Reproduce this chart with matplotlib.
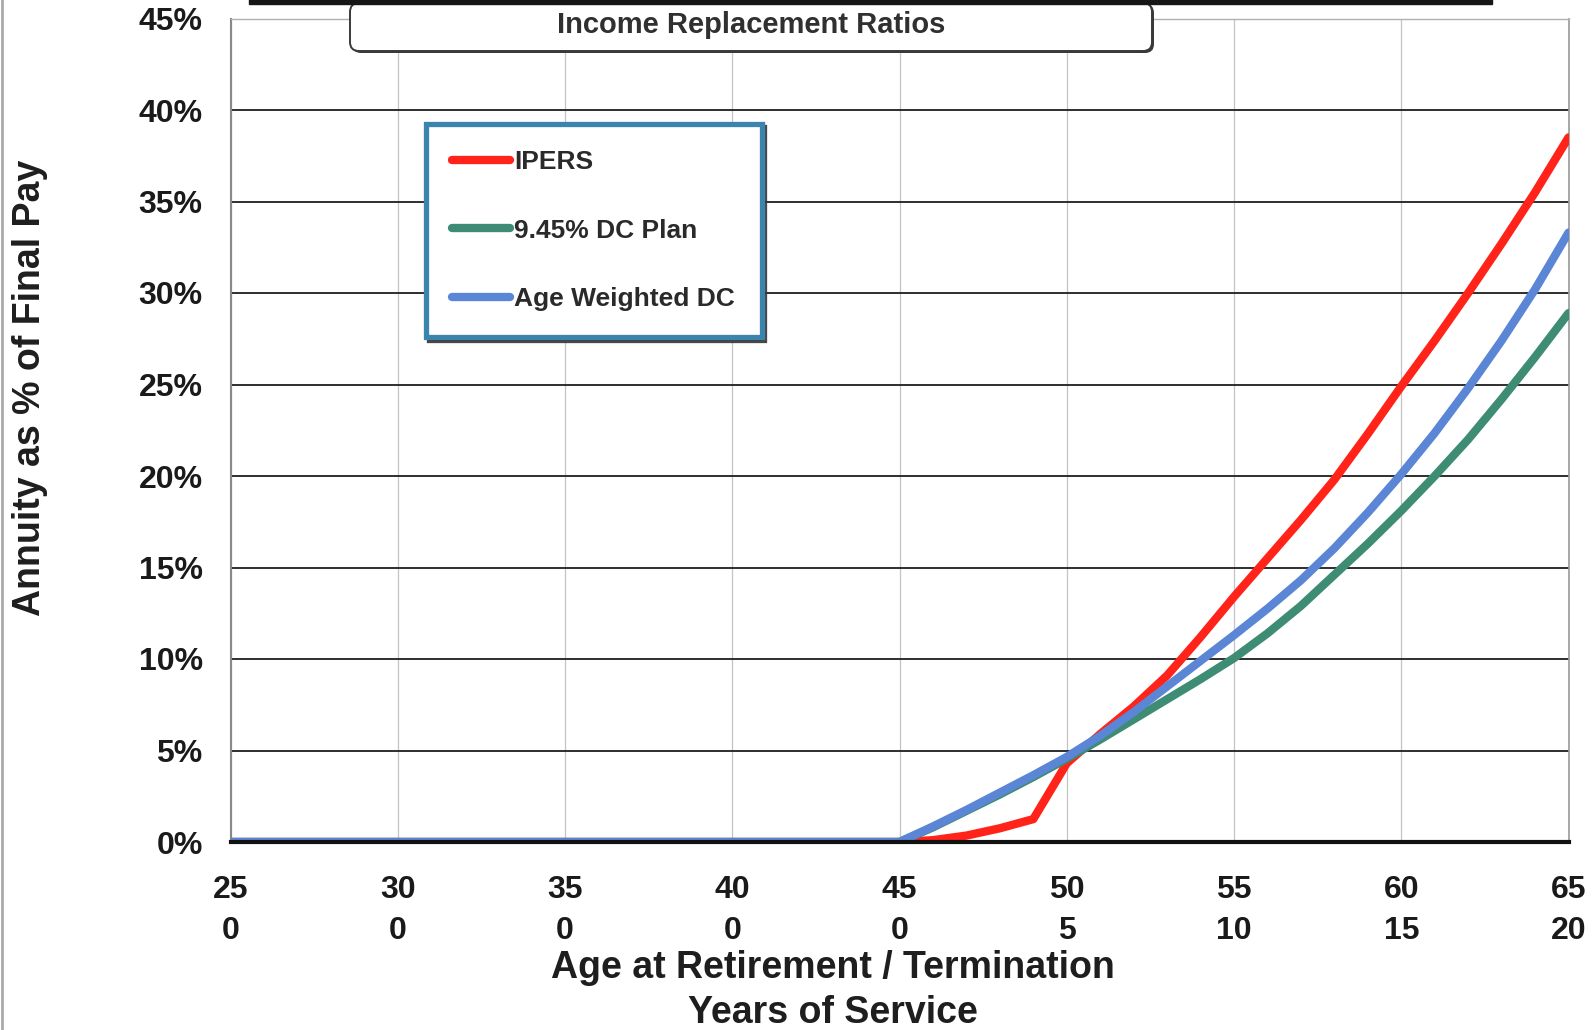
import matplotlib
matplotlib.use("Agg")
import matplotlib.pyplot as plt
from matplotlib.patches import FancyBboxPatch, Rectangle
from matplotlib.ticker import FuncFormatter

plt.rcParams['font.family'] = ['Liberation Sans', 'DejaVu Sans']

# age at retirement / termination (zero benefit before 45)
ages = [25, 45, 46, 47, 48, 49, 50, 51, 52, 53, 54, 55,
        56, 57, 58, 59, 60, 61, 62, 63, 64, 65]

# annuity as % of final pay
ipers = [0, 0, 0.1, 0.35, 0.75, 1.25, 4.3, 5.9, 7.4, 9.1, 11.2, 13.4,
         15.5, 17.6, 19.8, 22.3, 24.9, 27.4, 30.0, 32.7, 35.5, 38.5]
dc_plan = [0, 0, 0.8, 1.7, 2.6, 3.55, 4.55, 5.6, 6.7, 7.8, 8.9, 10.05,
           11.4, 12.9, 14.6, 16.3, 18.1, 20.0, 22.0, 24.2, 26.5, 28.9]
age_weighted = [0, 0, 0.85, 1.75, 2.7, 3.65, 4.65, 5.8, 7.1, 8.5, 9.9, 11.3,
                12.75, 14.3, 16.05, 18.0, 20.1, 22.35, 24.8, 27.4, 30.2, 33.3]

tick_ages = [25, 30, 35, 40, 45, 50, 55, 60, 65]
tick_service = [0, 0, 0, 0, 0, 5, 10, 15, 20]

series_names = ['IPERS', '9.45% DC Plan', 'Age Weighted DC']
series_colors = ['#ff2319', '#3d8c73', '#5b86d6']

W, H = 1592, 1030
fig = plt.figure(figsize=(W / 100, H / 100), dpi=100)
ax = fig.add_axes([230.5 / W, 1 - 842 / H, 1338 / W, 823.5 / H])

for vals, name, col in zip([ipers, dc_plan, age_weighted], series_names, series_colors):
    ax.plot(ages, vals, color=col, lw=6, label=name,
            solid_capstyle='round', solid_joinstyle='round', zorder=3)

ax.set_xlim(25, 65)
ax.set_ylim(0, 45)
ax.set_yticks(range(0, 50, 5))
ax.yaxis.set_major_formatter(FuncFormatter(lambda v, p: f'{v:.0f}%'))
ax.set_xticks(tick_ages)
ax.set_xticklabels([f'{a}\n{s}' for a, s in zip(tick_ages, tick_service)],
                   linespacing=1.45)

ax.tick_params(axis='both', length=0, labelsize=23, labelcolor='#1a1a1a')
ax.tick_params(axis='x', pad=24)
ax.tick_params(axis='y', pad=20)
for lab in ax.get_xticklabels() + ax.get_yticklabels():
    lab.set_fontweight('bold')

ax.yaxis.grid(True, color='#1e1e1e', lw=1.3)
ax.xaxis.grid(True, color='#c4c4c4', lw=0.9)
ax.set_axisbelow(True)

ax.spines['bottom'].set_color('#111111')
ax.spines['bottom'].set_linewidth(3)
ax.spines['bottom'].set_zorder(4)
ax.spines['left'].set_color('#888888')
ax.spines['left'].set_linewidth(1.5)
ax.spines['top'].set_color('#b0b0b0')
ax.spines['top'].set_linewidth(1)
ax.spines['right'].set_color('#9a9a9a')
ax.spines['right'].set_linewidth(1.2)

leg = ax.legend(loc='upper left', bbox_to_anchor=(426 / W, 1 - 124 / H),
                bbox_transform=fig.transFigure, borderaxespad=0,
                fancybox=False, shadow={'color': '#333333', 'alpha': 0.9},
                prop={'weight': 'bold', 'size': 19},
                handlelength=2.2, handletextpad=0.15, labelspacing=1.68,
                borderpad=1.0, framealpha=1)
leg.get_frame().set_edgecolor('#3a84ae')
leg.get_frame().set_linewidth(3.8)
for t in leg.get_texts():
    t.set_color('#2a2a2a')

fig.text(30 / W, 1 - 388 / H, 'Annuity as % of Final Pay', fontsize=27,
         fontweight='bold', color='#1e1e1e', rotation=90,
         ha='center', va='center')
fig.text(833 / W, 1 - 968 / H, 'Age at Retirement / Termination', fontsize=27,
         fontweight='bold', color='#1e1e1e', ha='center', va='center')
fig.text(833 / W, 1 - 1013 / H, 'Years of Service', fontsize=27,
         fontweight='bold', color='#1e1e1e', ha='center', va='center')

# pixel-space overlay for the heading box and frame bits
top = fig.add_axes([0, 0, 1, 1])
top.set_xlim(0, W)
top.set_ylim(H, 0)
top.axis('off')
top.add_patch(FancyBboxPatch((352, 4), 802, 49,
                             boxstyle='round,pad=0,rounding_size=9',
                             fc='#3a3a3a', ec='none'))
top.add_patch(FancyBboxPatch((350, 3), 802, 48,
                             boxstyle='round,pad=0,rounding_size=9',
                             fc='white', ec='#3a3a3a', lw=1.4))
top.add_patch(Rectangle((249, -2), 1243, 6, color='#161616'))
top.text(751, 25, 'Income Replacement Ratios', fontsize=21, fontweight='bold',
         color='#303030', ha='center', va='center')
top.plot([1.5, 1.5], [0, H], color='#aaaaaa', lw=2)

fig.savefig('out.png', dpi=100)
